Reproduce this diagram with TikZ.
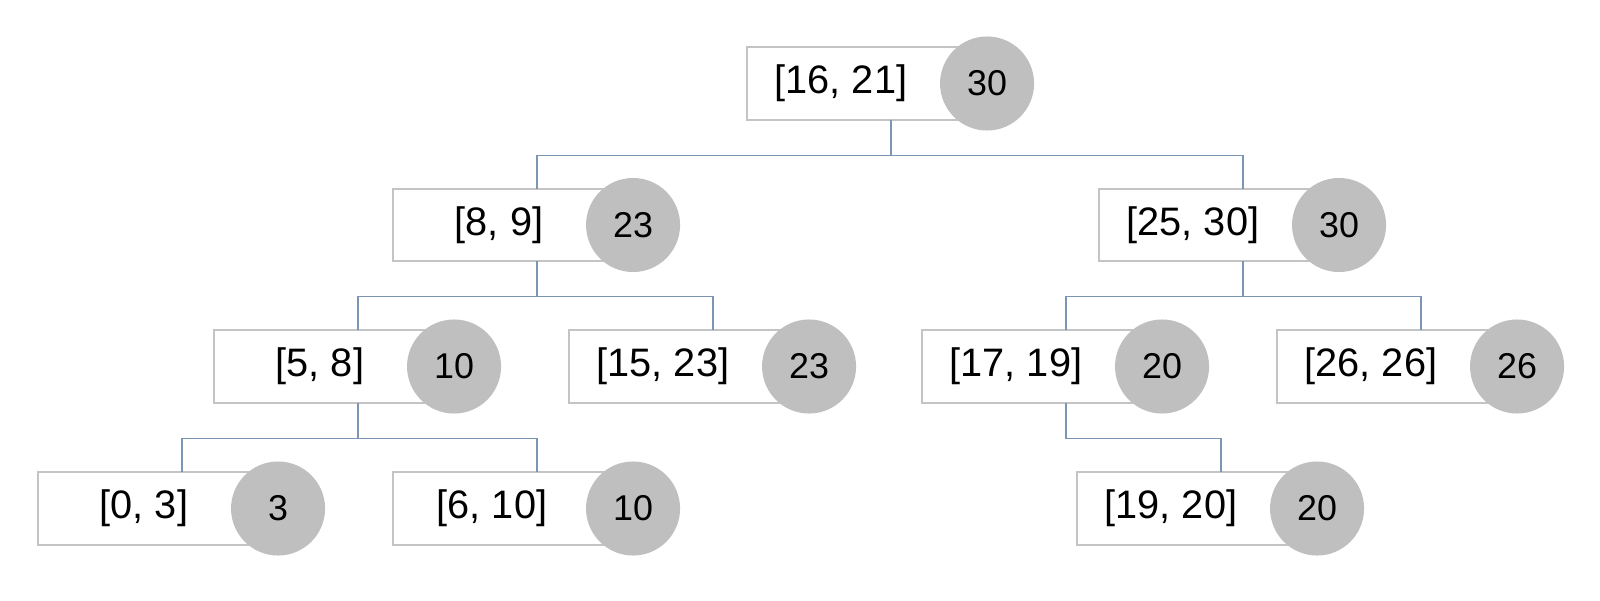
\documentclass[tikz,border=0pt]{standalone}
\usepackage{fontspec}
\setmainfont{Liberation Sans}
\usepackage{tikz}
\usepackage{color,xcolor}
\definecolor{bx}{HTML}{C4C4C4}
\definecolor{cc}{HTML}{BFBFBF}
\definecolor{ln}{HTML}{7A96B4}

\begin{document}
\begin{tikzpicture}[x=0.01cm,y=-0.01cm]
          \tikzstyle{box}=[minimum width=2.86cm,minimum height=0.71cm,inner sep=0pt]
          \tikzstyle{frame}=[draw=bx,line width=0.45pt,fill=white]
          \tikzstyle{lab}=[font=\fontsize{11.3}{13}\selectfont,inner sep=0pt]
          \tikzstyle{num}=[circle,fill=cc,minimum size=0.94cm,inner sep=0pt,font=\fontsize{10.2}{12}\selectfont]
          \tikzstyle{conn}=[color=ln,line width=0.3pt]
          \useasboundingbox (0,0) rectangle (1600,600);
          % boxes
          \node[box] (b1) at (891,83.5) {};
          \node[box] (b2) at (537,225) {};
          \node[box] (b3) at (1243,225) {};
          \node[box] (b4) at (358,366.5) {};
          \node[box] (b5) at (713,366.5) {};
          \node[box] (b6) at (1066,366.5) {};
          \node[box] (b7) at (1421,366.5) {};
          \node[box] (b8) at (182,508.5) {};
          \node[box] (b9) at (537,508.5) {};
          \node[box] (b10) at (1221,508.5) {};
          \foreach \b in {b1,b2,b3,b4,b5,b6,b7,b8,b9,b10}
            \draw[frame] (\b.north west) rectangle ([xshift=-0.43cm]\b.south east);
          % intervals
          \node[lab] (l1) at ([xshift=-0.5cm]b1.center) {[16, 21]};
          \node[lab] (l2) at ([xshift=-0.38cm]b2.center) {[8, 9]};
          \node[lab] (l3) at ([xshift=-0.5cm]b3.center) {[25, 30]};
          \node[lab] (l4) at ([xshift=-0.38cm]b4.center) {[5, 8]};
          \node[lab] (l5) at ([xshift=-0.5cm]b5.center) {[15, 23]};
          \node[lab] (l6) at ([xshift=-0.5cm]b6.center) {[17, 19]};
          \node[lab] (l7) at ([xshift=-0.5cm]b7.center) {[26, 26]};
          \node[lab] (l8) at ([xshift=-0.38cm]b8.center) {[0, 3]};
          \node[lab] (l9) at ([xshift=-0.45cm]b9.center) {[6, 10]};
          \node[lab] (l10) at ([xshift=-0.5cm]b10.center) {[19, 20]};
          % max values
          \node[num] (m1) at ([xshift=0.96cm]b1.center) {30};
          \node[num] (m2) at ([xshift=0.96cm]b2.center) {23};
          \node[num] (m3) at ([xshift=0.96cm]b3.center) {30};
          \node[num] (m4) at ([xshift=0.96cm]b4.center) {10};
          \node[num] (m5) at ([xshift=0.96cm]b5.center) {23};
          \node[num] (m6) at ([xshift=0.96cm]b6.center) {20};
          \node[num] (m7) at ([xshift=0.96cm]b7.center) {26};
          \node[num] (m8) at ([xshift=0.96cm]b8.center) {3};
          \node[num] (m9) at ([xshift=0.96cm]b9.center) {10};
          \node[num] (m10) at ([xshift=0.96cm]b10.center) {20};
          % tree lines
          \draw[conn] (b1.south) -- ++(0,35.5) -| (b2.north);
          \draw[conn] (b1.south) -- ++(0,35.5) -| (b3.north);
          \draw[conn] (b2.south) -- ++(0,35.5) -| (b4.north);
          \draw[conn] (b2.south) -- ++(0,35.5) -| (b5.north);
          \draw[conn] (b3.south) -- ++(0,35.5) -| (b6.north);
          \draw[conn] (b3.south) -- ++(0,35.5) -| (b7.north);
          \draw[conn] (b4.south) -- ++(0,35.5) -| (b8.north);
          \draw[conn] (b4.south) -- ++(0,35.5) -| (b9.north);
          \draw[conn] (b6.south) -- ++(0,35.5) -| (b10.north);
        \end{tikzpicture}
\end{document}
